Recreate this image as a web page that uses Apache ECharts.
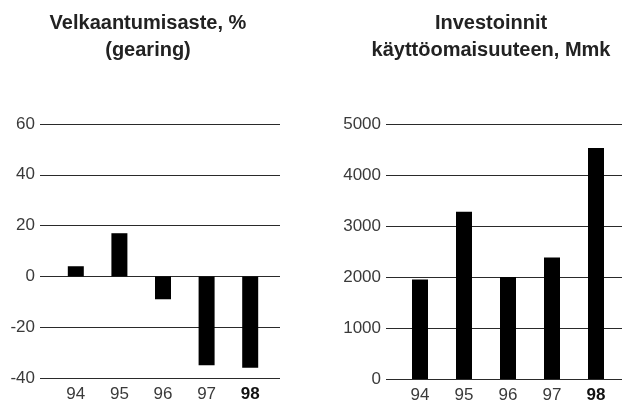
<!DOCTYPE html>
<html>
<head>
<meta charset="utf-8">
<style>
  html, body { margin: 0; padding: 0; background: #fff; }
  #chart { width: 624px; height: 405px; }
</style>
<script src="https://cdn.jsdelivr.net/npm/echarts@6/dist/echarts.min.js"></script>
</head>
<body>
<div id="chart"></div>
<script>
// vuodet
const years = ['94', '95', '96', '97', '98']
// velkaantumisaste, %
const gearing = [4, 17, -9, -35, -36]
// investoinnit, Mmk
const investments = [1950, 3280, 2000, 2380, 4530]

const FONT = '"Liberation Sans", Arial, Helvetica, sans-serif'
const TEXT = '#3a3a3a'
const LINE = '#2a2a2a'

const chart = echarts.init(document.getElementById('chart'))

// x-akselin tekstit, viimeinen vuosi lihavoituna
const yearLabel = {
  interval: 0,
  fontFamily: FONT,
  fontSize: 17,
  color: TEXT,
  margin: 8,
  formatter: (v) => v === '98' ? '{b|' + v + '}' : v,
  rich: {
    b: { fontFamily: FONT, fontSize: 17, fontWeight: 'bold', color: '#111' }
  }
}

// pohja-akseli jossa vain vaakaviivat ja y-tekstit
function lineAxis (min, max, step) {
  return {
    type: 'value',
    min: min,
    max: max,
    interval: step,
    axisLine: { show: false },
    axisTick: { show: false },
    axisLabel: { fontFamily: FONT, fontSize: 17, color: TEXT, margin: 5, formatter: (v) => String(v) },
    splitLine: { lineStyle: { color: LINE, width: 1 } }
  }
}

function hiddenAxis (min, max) {
  return { type: 'value', min: min, max: max, show: false, splitLine: { show: false } }
}

const titleStyle = { fontFamily: FONT, fontSize: 20, fontWeight: 'bold', color: '#222', lineHeight: 27 }

const option = {
  animation: false,
  title: [
    {
      text: 'Velkaantumisaste, %\n(gearing)',
      left: 143,
      top: 5,
      textAlign: 'center',
      textStyle: titleStyle
    },
    {
      text: 'Investoinnit\nkäyttöomaisuuteen, Mmk',
      left: 486,
      top: 5,
      textAlign: 'center',
      textStyle: titleStyle
    }
  ],
  grid: [
    { left: 40, right: 344, top: 124, bottom: 27 },
    { left: 54, right: 352, top: 124, bottom: 27 },
    { left: 386, right: 2, top: 124, bottom: 26 },
    { left: 398, right: 6, top: 124, bottom: 26 }
  ],
  xAxis: [
    { gridIndex: 0, type: 'category', data: years, show: false },
    {
      gridIndex: 1,
      type: 'category',
      data: years,
      axisLine: { show: false },
      axisTick: { show: false },
      axisLabel: yearLabel
    },
    { gridIndex: 2, type: 'category', data: years, show: false },
    {
      gridIndex: 3,
      type: 'category',
      data: years,
      axisLine: { show: false },
      axisTick: { show: false },
      axisLabel: yearLabel
    }
  ],
  yAxis: [
    Object.assign({ gridIndex: 0 }, lineAxis(-40, 60, 20)),
    Object.assign({ gridIndex: 1 }, hiddenAxis(-40, 60)),
    Object.assign({ gridIndex: 2 }, lineAxis(0, 5000, 1000)),
    Object.assign({ gridIndex: 3 }, hiddenAxis(0, 5000))
  ],
  series: [
    {
      type: 'bar',
      xAxisIndex: 1,
      yAxisIndex: 1,
      data: gearing,
      barWidth: 16,
      itemStyle: { color: '#000' }
    },
    {
      type: 'bar',
      xAxisIndex: 3,
      yAxisIndex: 3,
      data: investments,
      barWidth: 16,
      itemStyle: { color: '#000' }
    }
  ]
}

chart.setOption(option)
</script>
</body>
</html>
